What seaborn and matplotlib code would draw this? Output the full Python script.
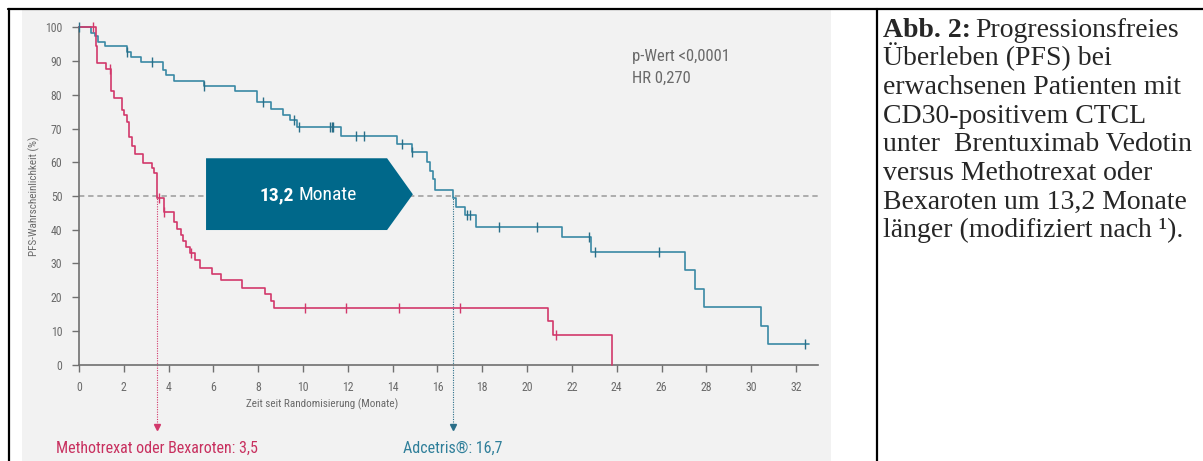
import numpy as np
import pandas as pd
import matplotlib
matplotlib.use("Agg")
import matplotlib.pyplot as plt
from matplotlib.patches import Rectangle, Polygon
from matplotlib.lines import Line2D
import seaborn as sns

# --- data ---
# Adcetris (Brentuximab Vedotin) arm: step times (months) and PFS (%)
adc_time = [0, 0.54, 0.71, 0.83, 1.16, 2.13, 2.32, 2.77, 3.74, 3.87, 4.25, 5.58, 6.96,
            7.93, 8.57, 9.12, 9.42, 9.72, 11.70, 14.20, 14.85, 15.52, 15.67, 15.82,
            15.89, 16.70, 16.83, 17.23, 17.72, 21.57, 22.84, 27.05, 27.49, 27.91,
            30.44, 30.77, 32.60]
adc_pfs = [100, 98.5, 97.5, 95.8, 94.6, 92.8, 91.2, 89.9, 87.4, 85.9, 84.2, 82.5, 81.1,
           78.0, 75.7, 74.0, 72.5, 70.4, 67.8, 65.4, 63.1, 60.2, 57.5, 55.0,
           51.8, 49.3, 46.6, 44.4, 40.9, 37.7, 33.5, 28.0, 22.3, 17.2,
           11.4, 6.0, 6.0]
adc_censor = [0.0, 2.13, 3.24, 5.58, 8.20, 9.61, 9.83, 11.20, 11.27, 11.33, 12.36, 12.72,
              14.43, 14.85, 17.30, 17.45, 18.76, 20.43, 22.78, 23.03, 25.90, 32.40]

# Methotrexat oder Bexaroten arm
mtx_time = [0, 0.74, 0.82, 1.20, 1.43, 1.56, 1.93, 2.02, 2.13, 2.25, 2.35, 2.50, 2.84,
            3.24, 3.36, 3.50, 3.80, 4.24, 4.36, 4.55, 4.66, 4.78, 4.95, 5.18, 5.40,
            5.95, 6.32, 7.26, 8.30, 8.55, 8.70, 20.95, 21.17, 23.77]
mtx_pfs = [100, 94.4, 89.4, 87.6, 81.1, 79.2, 75.6, 74.0, 72.0, 67.4, 64.8, 62.4, 59.9,
           58.2, 56.7, 49.3, 45.4, 42.4, 40.1, 38.5, 36.7, 35.0, 33.0, 31.0, 28.6,
           26.8, 25.1, 22.7, 20.9, 18.8, 16.8, 13.0, 8.8, 0.0]
mtx_censor = [0.62, 1.40, 3.55, 3.80, 5.00, 10.10, 11.90, 14.30, 17.00, 21.30]

median_mtx = 3.5
median_adc = 16.7
x_ticks = list(range(0, 33, 2))
y_ticks = list(range(0, 101, 10))

caption_lines = [
    "Überleben (PFS) bei",
    "erwachsenen Patienten mit",
    "CD30-positivem CTCL",
    "unter  Brentuximab Vedotin",
    "versus Methotrexat oder",
    "Bexaroten um 13,2 Monate",
    "länger (modifiziert nach ¹).",
]

RED = "#d2386b"
BLUE = "#3a89a5"
BLUE_DARK = "#2a6e88"
BOX = "#00688a"
GREY_TXT = "#6a6a6a"

sns.set_style("white")
plt.rcParams["font.family"] = ["Roboto Condensed", "Liberation Sans Narrow", "Roboto", "DejaVu Sans"]

W, H = 1203, 461
fig = plt.figure(figsize=(W / 100, H / 100), dpi=100)

# grey picture panel and frame lines
fig.patches.append(Rectangle((22 / W, 0), (831 - 22) / W, 1 - 10 / H,
                             transform=fig.transFigure, facecolor="#f2f2f2",
                             edgecolor="none", zorder=-5))
for xs, ys in [([8 / W, 1], [1 - 9.5 / H, 1 - 9.5 / H]),
               ([9 / W, 9 / W], [0, 1 - 9.5 / H]),
               ([877 / W, 877 / W], [0, 1 - 9.5 / H])]:
    fig.lines.append(Line2D(xs, ys, transform=fig.transFigure, color="black", lw=1.6))

# axes placed so that x 0..33 -> px 79..818, y 0..100 -> px 364.5..27.5
px_x = 22.406
px_y = 3.37
ax = fig.add_axes([79 / W, 1 - 364.5 / H, 33 * px_x / W, 100 * px_y / H])
ax.set_facecolor("none")
ax.set_zorder(2)
ax.set_xlim(0, 33)
ax.set_ylim(0, 100)

adc = pd.DataFrame({"Monate": adc_time, "PFS": adc_pfs})
mtx = pd.DataFrame({"Monate": mtx_time, "PFS": mtx_pfs})

# reference line at 50 %
ax.axhline(50, color="#9a9a9a", lw=1.1, ls=(0, (3.5, 2.5)), zorder=1)

sns.lineplot(data=adc, x="Monate", y="PFS", ax=ax, color=BLUE, lw=1.2,
             drawstyle="steps-post", estimator=None, sort=False, clip_on=False, zorder=3)
sns.lineplot(data=mtx, x="Monate", y="PFS", ax=ax, color=RED, lw=1.2,
             drawstyle="steps-post", estimator=None, sort=False, clip_on=False, zorder=3)


def step_value(times, vals, t):
    i = np.searchsorted(times, t, side="right") - 1
    return vals[max(i, 0)]


adc_c = pd.DataFrame({"t": adc_censor,
                      "s": [step_value(adc_time, adc_pfs, t) for t in adc_censor]})
mtx_c = pd.DataFrame({"t": mtx_censor,
                      "s": [step_value(mtx_time, mtx_pfs, t) for t in mtx_censor]})
sns.scatterplot(data=adc_c, x="t", y="s", ax=ax, marker="|", s=45, color=BLUE_DARK,
                linewidth=1.0, clip_on=False, zorder=4)
sns.scatterplot(data=mtx_c, x="t", y="s", ax=ax, marker="|", s=45, color=RED,
                linewidth=1.0, clip_on=False, zorder=4)

# 13,2 Monate arrow box
box = Polygon([(5.67, 61.2), (13.75, 61.2), (14.9, 50.5), (13.75, 39.9), (5.67, 39.9)],
              closed=True, facecolor=BOX, edgecolor="none", zorder=5)
ax.add_patch(box)
ax.text(9.6, 50.2, "13,2", color="white", fontsize=14, fontweight="bold",
        ha="right", va="center", zorder=6)
ax.text(9.8, 50.2, "Monate", color="white", fontsize=14, ha="left", va="center", zorder=6)

# median drop lines with arrow heads
for m, col in [(median_mtx, RED), (median_adc, BLUE_DARK)]:
    ax.plot([m, m], [50, -18], color=col, lw=0.8, ls=(0, (1, 1.2)), clip_on=False, zorder=2)
    ax.plot([m], [-18.6], marker="v", color=col, ms=4.5, clip_on=False, zorder=2)
ax.text(median_mtx, -24.8, "Methotrexat oder Bexaroten: 3,5", color="#c8305f",
        fontsize=11.5, ha="center", va="center")
ax.text(median_adc, -24.8, "Adcetris®: 16,7", color="#2f7f9a",
        fontsize=11.5, ha="center", va="center")

ax.text(24.7, 91.5, "p-Wert <0,0001", color=GREY_TXT, fontsize=12, ha="left", va="center")
ax.text(24.7, 85.0, "HR 0,270", color=GREY_TXT, fontsize=12, ha="left", va="center")

# axes styling
for side in ["top", "right"]:
    ax.spines[side].set_visible(False)
for side in ["left", "bottom"]:
    ax.spines[side].set_color("#707070")
    ax.spines[side].set_linewidth(1.2)
ax.set_xticks(x_ticks)
ax.set_yticks(y_ticks)
ax.tick_params(axis="both", direction="out", length=5, width=1, color="#707070",
               labelcolor=GREY_TXT, labelsize=8.5, pad=7, bottom=True, left=True)
ax.set_xlabel("")
ax.set_ylabel("")
ax.text(10.85, -11.8, "Zeit seit Randomisierung (Monate)", color=GREY_TXT, fontsize=8,
        ha="center", va="center")
ax.text(-2.0, 50, "PFS-Wahrscheinlichkeit (%)", color=GREY_TXT, fontsize=8,
        ha="center", va="center", rotation=90)

# caption on the right
serif = ["Liberation Serif", "DejaVu Serif"]
x0 = 883 / W
base0 = 37
step = 28.6
cap_size = 20
fig.canvas.draw()
t_bold = fig.text(x0, 1 - base0 / H, "Abb. 2:", fontsize=cap_size, fontweight="bold",
                  family=serif, va="baseline", ha="left")
bb = t_bold.get_window_extent(renderer=fig.canvas.get_renderer())
fig.text(bb.x1 / W + 4 / W, 1 - base0 / H, "Progressionsfreies", fontsize=cap_size,
         family=serif, va="baseline", ha="left")
for i, line in enumerate(caption_lines, start=1):
    fig.text(x0, 1 - (base0 + step * i) / H, line, fontsize=cap_size, family=serif,
             va="baseline", ha="left")

fig.savefig("out.png", dpi=100)
